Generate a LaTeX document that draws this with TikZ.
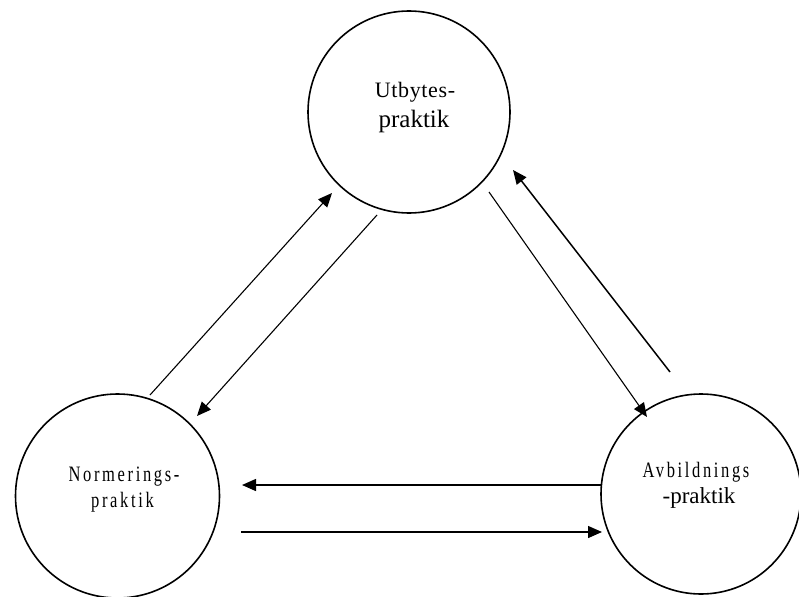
\documentclass[tikz,border=0pt]{standalone}
\usepackage{fontspec}
\setmainfont{Liberation Serif}
\newfontfamily\spacedfont[LetterSpace=12,FakeStretch=0.75]{Liberation Serif}
\usetikzlibrary{arrows.meta}
\begin{document}
\begin{tikzpicture}[x=1pt,y=-1pt,
        practice/.style={circle,draw=black,line width=1.6pt,minimum size=#1,inner sep=0pt},
        flow/.style={black,line width=1.1pt,-{Triangle[length=14pt,width=12pt]}},
        word/.style={anchor=base,inner sep=0pt}]
            \useasboundingbox (0,0) rectangle (799,596);
            \node[practice=202pt] (utbytes) at (409,112) {};
            \node[practice=204pt] (normering) at (117.5,496) {};
            \node[practice=200pt] (avbildning) at (701,494) {};
            \node[word,font=\fontsize{22}{26}\selectfont\addfontfeature{LetterSpace=3}] (utb1) at (415,98) {Utbytes-};
            \node[word,font=\fontsize{25}{30}\selectfont] (utb2) at (414,128) {praktik};
            \node[word,font=\fontsize{22}{26}\spacedfont] (nor1) at (124,481) {Normerings-};
            \node[word,font=\fontsize{22}{26}\spacedfont] (nor2) at (122.5,507) {praktik};
            \node[word,font=\fontsize{22}{26}\spacedfont] (avb1) at (696,477) {Avbildnings};
            \node[word,font=\fontsize{23}{28}\selectfont] (avb2) at (699,503) {-praktik};
            \coordinate (nu0) at (150,395);
            \coordinate (nu1) at (332,193);
            \coordinate (un0) at (377,215);
            \coordinate (un1) at (197,416);
            \coordinate (ua0) at (489,192);
            \coordinate (ua1) at (647,417);
            \coordinate (au0) at (670,372);
            \coordinate (au1) at (513,170);
            \coordinate (an0) at (602,485);
            \coordinate (an1) at (242,485);
            \coordinate (na0) at (241,532);
            \coordinate (na1) at (602,532);
            \draw[flow] (nu0) -- (nu1);
            \draw[flow] (un0) -- (un1);
            \draw[flow] (ua0) -- (ua1);
            \draw[flow,line width=1.5pt] (au0) -- (au1);
            \draw[flow,line width=1.4pt] (an0) -- (an1);
            \draw[flow,line width=1.4pt] (na0) -- (na1);
        \end{tikzpicture}
\end{document}
